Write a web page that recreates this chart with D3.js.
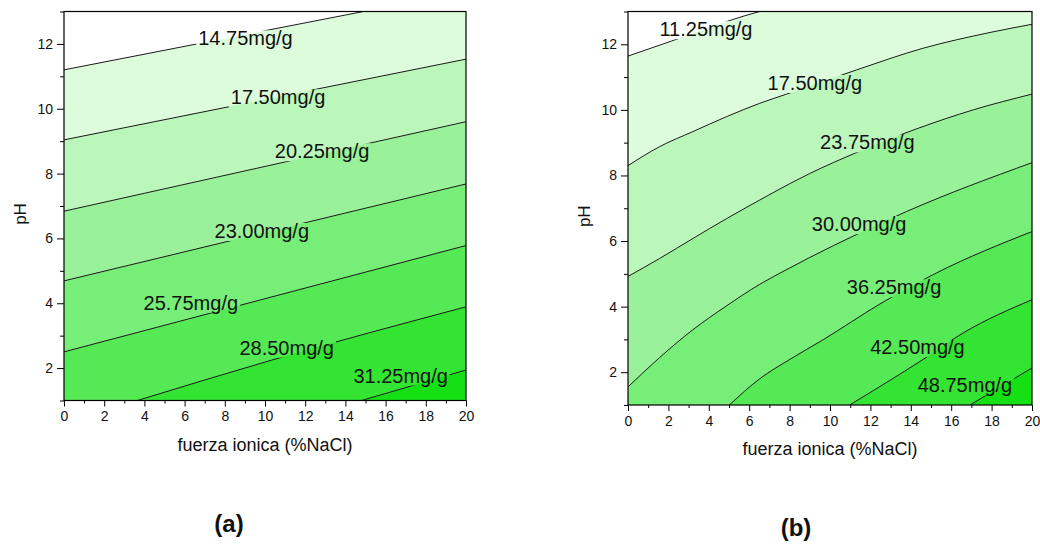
<!DOCTYPE html>
<html>
<head>
<meta charset="utf-8">
<script src="https://cdn.jsdelivr.net/npm/d3@7"></script>
<style>
  body { margin: 0; background: #fff; }
  svg text { font-family: "Liberation Sans", Arial, sans-serif; fill: #111; }
</style>
</head>
<body>
<svg id="chart" width="1040" height="544"></svg>
<script>
// contour levels (mg/g) and the lines, as [NaCl %, pH]
var levelsA = [14.75, 17.50, 20.25, 23.00, 25.75, 28.50, 31.25];
var linesA = [
    [[0, 11.2], [14.9, 13]],
    [[0, 9.04], [20, 11.53]],
    [[0, 6.84], [20, 9.6]],
    [[0, 4.69], [20, 7.68]],
    [[0, 2.5], [20, 5.78]],
    [[3.65, 1], [10.3, 2.24], [20, 3.89]],
    [[14.8, 1], [20, 1.94]]
];
// where each label sits (centre), same units
var labelsA = [[9.03, 12.17], [10.65, 10.35], [12.84, 8.69], [9.84, 6.23], [6.31, 4.02], [11.08, 2.63], [16.75, 1.77]];

var levelsB = [11.25, 17.50, 23.75, 30.00, 36.25, 42.50, 48.75];
var linesB = [
    [[0, 11.64], [2.16, 12.1], [5.78, 12.87], [6.52, 13]],
    [[0, 8.3], [1.57, 8.88], [3.22, 9.34], [4.87, 9.79], [6.52, 10.2], [7.85, 10.48], [11.32, 11.22], [14.61, 11.88], [17.92, 12.36], [20, 12.61]],
    [[0, 4.92], [1.57, 5.47], [3.22, 6.08], [4.87, 6.68], [6.52, 7.25], [8.01, 7.75], [9.0, 8.06], [11.32, 8.7], [14.37, 9.44], [17.09, 10.0], [20, 10.48]],
    [[0, 1.55], [1.57, 2.45], [3.22, 3.3], [4.87, 4.02], [6.52, 4.68], [8.01, 5.18], [9.0, 5.5], [11.32, 6.2], [13.79, 6.9], [20, 8.39]],
    [[5.02, 1], [6.52, 1.8], [8.01, 2.39], [9.66, 2.99], [12.47, 4.08], [15.28, 5.03], [20, 6.29]],
    [[10.97, 1], [14.61, 2.39], [16.6, 3.2], [20, 4.21]],
    [[16.93, 1], [20, 2.13]]
];
var labelsB = [[3.86, 12.46], [9.25, 10.82], [11.85, 9.01], [11.44, 6.52], [13.17, 4.59], [14.33, 2.77], [16.68, 1.6]];

var bandColors = ["#ffffff", "#dcfcdc", "#bbf7bb", "#99f299", "#77ee77", "#55e955", "#33e433", "#14e014"];

var xTicks = [0, 2, 4, 6, 8, 10, 12, 14, 16, 18, 20];
var xMinor = [1, 3, 5, 7, 9, 11, 13, 15, 17, 19];
var yTicks = [2, 4, 6, 8, 10, 12];
var yMinor = [1, 3, 5, 7, 9, 11, 13];

var svg = d3.select("#chart");

function panel(id, left, right, top, bottom, levels, lines, labels, tag, tagX, tagY) {
    var x = d3.scaleLinear().domain([0, 20]).range([left, right]);
    var y = d3.scaleLinear().domain([1, 13]).range([bottom, top]);
    var g = svg.append("g");

    svg.append("clipPath").attr("id", "clip" + id)
        .append("rect")
        .attr("x", left).attr("y", top)
        .attr("width", right - left).attr("height", bottom - top);

    var plot = g.append("g").attr("clip-path", "url(#clip" + id + ")");

    plot.append("rect")
        .attr("x", left).attr("y", top)
        .attr("width", right - left).attr("height", bottom - top)
        .attr("fill", bandColors[0]);

    var area = d3.area()
        .x(d => x(d[0]))
        .y0(y(-5))
        .y1(d => y(d[1]))
        .curve(d3.curveMonotoneX);

    lines.forEach(function (pts, k) {
        plot.append("path")
            .attr("d", area(pts))
            .attr("fill", bandColors[k + 1]);
        var last = pts[pts.length - 1];
        if (last[1] >= 13) {
            // the band keeps going to the right once its line leaves through the top
            plot.append("rect")
                .attr("x", x(last[0]) - 0.6).attr("y", top)
                .attr("width", right - x(last[0]) + 3).attr("height", bottom - top)
                .attr("fill", bandColors[k + 1]);
        }
    });

    // labels first so the lines can be cut around them
    var labelG = g.append("g");
    var txt = labelG.selectAll("text")
        .data(labels)
        .enter()
        .append("text")
        .attr("x", d => x(d[0]))
        .attr("y", d => y(d[1]) + 7)
        .attr("text-anchor", "middle")
        .style("font-size", "20px")
        .text((d, i) => levels[i].toFixed(2) + "mg/g");

    var mask = svg.append("mask").attr("id", "mask" + id);
    mask.append("rect")
        .attr("x", 0).attr("y", 0).attr("width", 1040).attr("height", 544)
        .attr("fill", "white");
    txt.each(function () {
        var b = this.getBBox();
        mask.append("rect")
            .attr("x", b.x - 2).attr("y", b.y + 3)
            .attr("width", b.width + 4).attr("height", b.height - 4)
            .attr("fill", "black");
    });

    var line = d3.line()
        .x(d => x(d[0]))
        .y(d => y(d[1]))
        .curve(d3.curveMonotoneX);

    plot.append("g")
        .attr("mask", "url(#mask" + id + ")")
        .selectAll("path")
        .data(lines)
        .enter()
        .append("path")
        .attr("d", line)
        .attr("fill", "none")
        .attr("stroke", "#1a1a1a")
        .attr("stroke-width", 1);

    labelG.raise();

    // axes
    g.append("g")
        .attr("transform", "translate(0," + bottom + ")")
        .call(d3.axisBottom(x).tickValues(xTicks).tickSize(6).tickPadding(5));
    g.append("g")
        .attr("transform", "translate(0," + bottom + ")")
        .call(d3.axisBottom(x).tickValues(xMinor).tickSize(3).tickFormat(""));
    g.append("g")
        .attr("transform", "translate(" + left + ",0)")
        .call(d3.axisLeft(y).tickValues(yTicks).tickSize(7).tickPadding(4));
    g.append("g")
        .attr("transform", "translate(" + left + ",0)")
        .call(d3.axisLeft(y).tickValues(yMinor).tickSize(4).tickFormat(""));

    g.selectAll(".domain").remove();
    g.selectAll(".tick line").attr("stroke", "#000");
    g.selectAll(".tick text")
        .style("font-size", "14px")
        .style("font-family", "'Liberation Sans', Arial, sans-serif")
        .attr("fill", "#111");

    g.append("rect")
        .attr("x", left).attr("y", top)
        .attr("width", right - left).attr("height", bottom - top)
        .attr("fill", "none")
        .attr("stroke", "#000")
        .attr("stroke-width", 1.2);

    g.append("text")
        .attr("x", (left + right) / 2)
        .attr("y", bottom + 50)
        .attr("text-anchor", "middle")
        .style("font-size", "18px")
        .text("fuerza ionica (%NaCl)");

    g.append("text")
        .attr("transform", "translate(" + (left - 38) + "," + ((top + bottom) / 2 + 8) + ") rotate(-90)")
        .attr("text-anchor", "middle")
        .style("font-size", "17px")
        .text("pH");

    g.append("text")
        .attr("x", tagX)
        .attr("y", tagY)
        .attr("text-anchor", "middle")
        .style("font-size", "24px")
        .style("font-weight", "bold")
        .text(tag);
}

panel("a", 64, 466, 11.5, 400.5, levelsA, linesA, labelsA, "(a)", 229, 532);
panel("b", 628, 1032, 11.5, 405, levelsB, linesB, labelsB, "(b)", 796, 536);
</script>
</body>
</html>
